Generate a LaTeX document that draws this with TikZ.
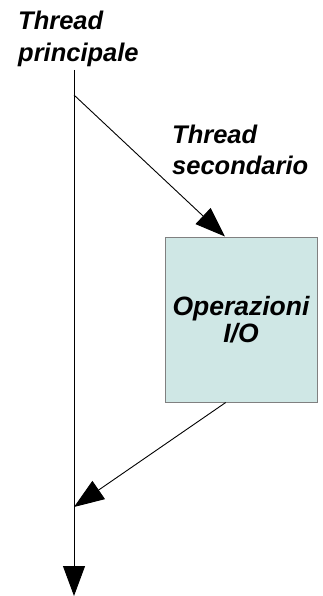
\documentclass[tikz,border=0pt]{standalone}
\usepackage{fontspec}
\setmainfont{Liberation Sans}
\usetikzlibrary{arrows.meta,calc}
\definecolor{boxfill}{RGB}{207,231,229}
\definecolor{boxdraw}{RGB}{128,128,128}
\tikzset{
  lbl/.style={font=\fontsize{25.5}{31.5}\selectfont\bfseries\itshape, inner sep=0pt, align=left},
  iobox/.style={draw=boxdraw, fill=boxfill, line width=1pt, minimum width=152pt, minimum height=165pt, inner sep=0pt,
    font=\fontsize{26.5}{26.5}\selectfont\bfseries\itshape, align=center},
  flow/.style={draw=black, line width=0.9pt},
  tip/.style={-{Triangle[length=30pt,width=22pt]}}
}
\begin{document}
\begin{tikzpicture}[x=1pt,y=-1pt]
\useasboundingbox (0,0) rectangle (323,596);
\node[lbl, anchor=base west] (tp) at (18,61.5) {Thread\\principale};
\node[lbl, anchor=base west] (ts) at (172,175) {Thread\\secondario};
\node[iobox] (io) at (241,319.5) {Operazioni\\I/O};
\coordinate (top) at (74,70);
\coordinate (split) at (74,95);
\coordinate (join) at (74,507);
\coordinate (bottom) at (74,596);
\draw[flow] (top) -- (split);
\draw[flow, tip] (split) -- (bottom);
\draw[flow, tip] (split) -- ($(io.north west)!0.395!(io.north east)$);
\draw[flow, tip] ($(io.south west)!0.4!(io.south east)$) -- (join);
\end{tikzpicture}
\end{document}
